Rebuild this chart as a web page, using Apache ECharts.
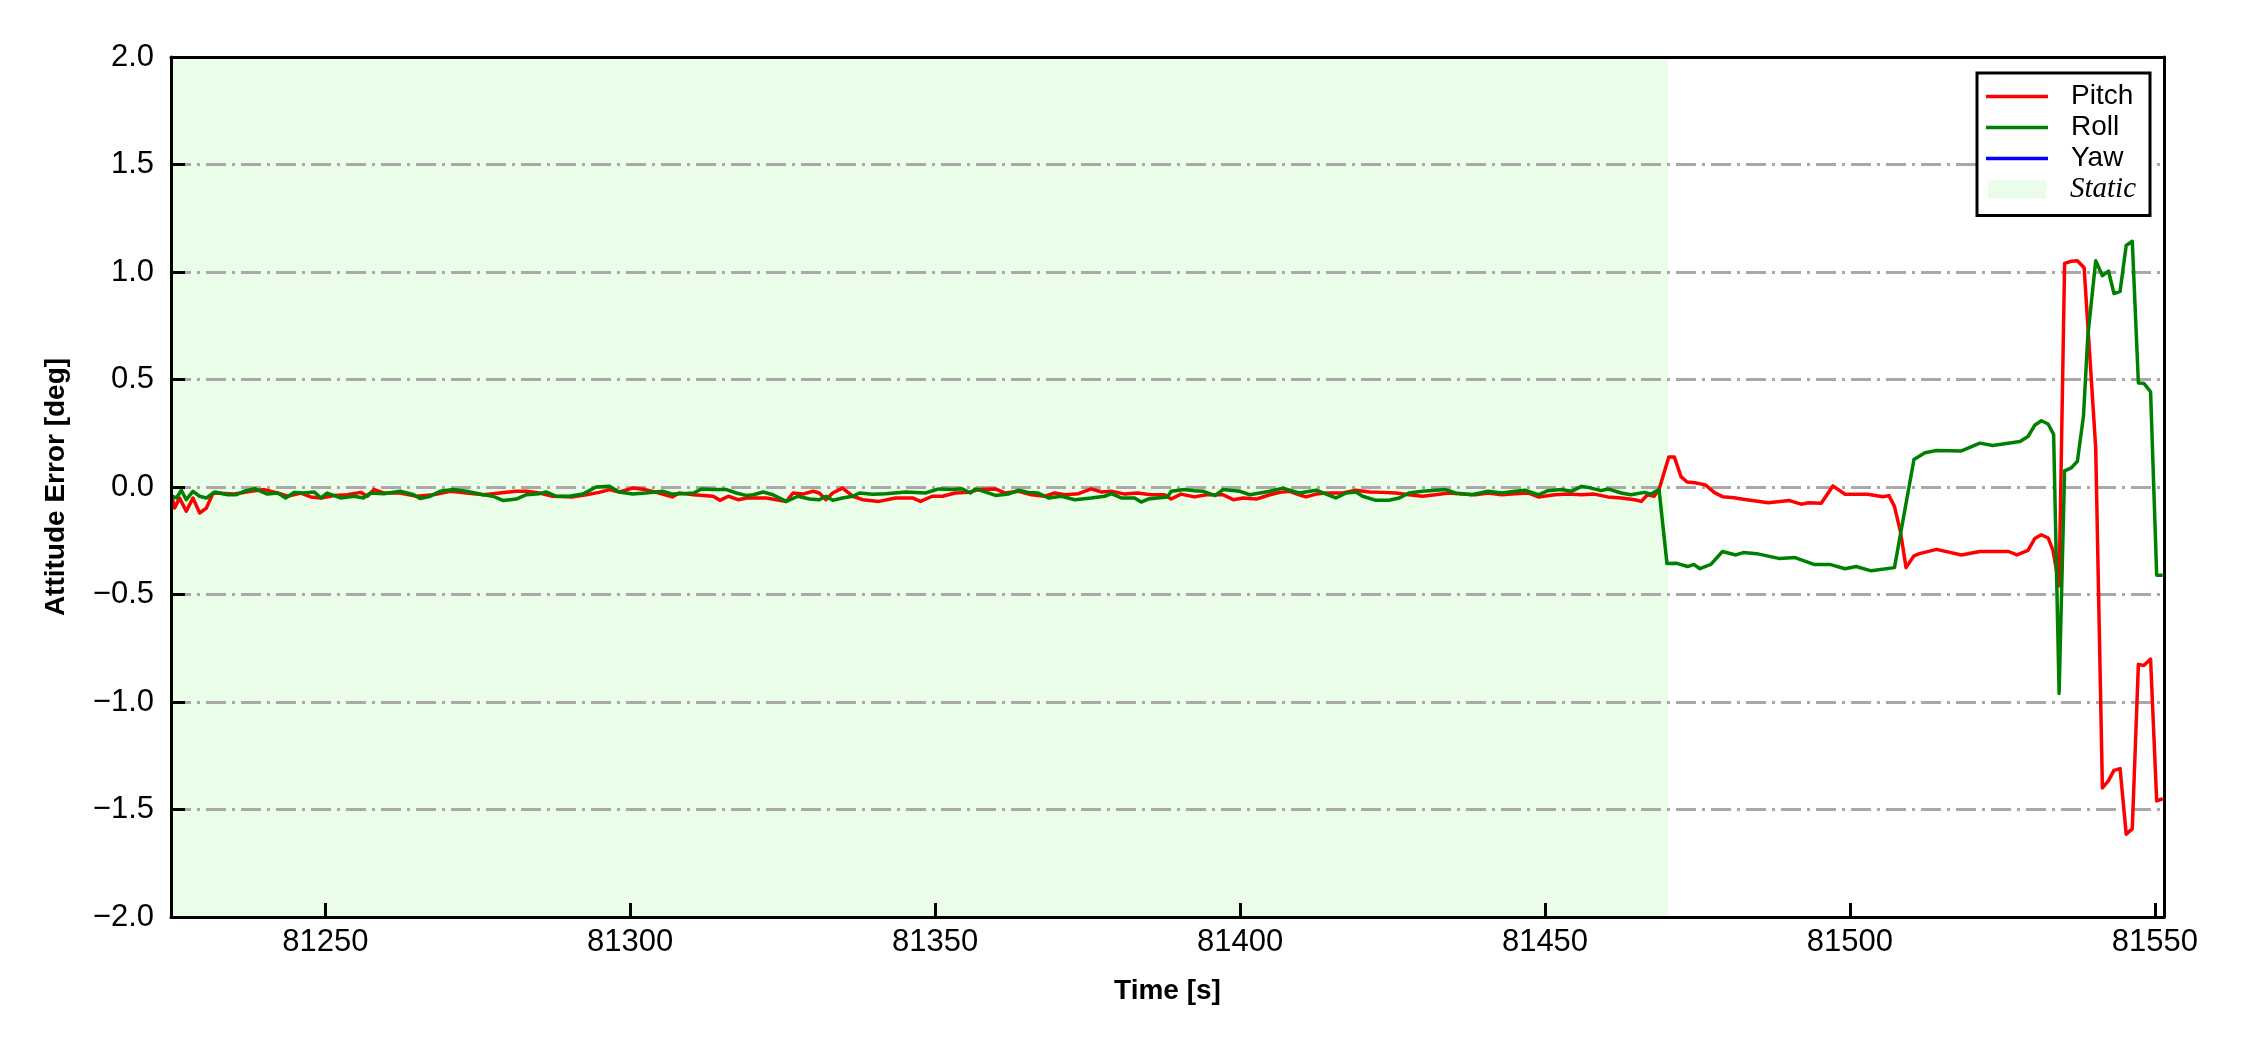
<!DOCTYPE html>
<html><head><meta charset="utf-8">
<script src="https://cdn.jsdelivr.net/npm/echarts@6/dist/echarts.min.js"></script>
<style>html,body{margin:0;padding:0;background:#fff}#c{width:2250px;height:1050px}</style>
</head><body><div id="c"></div>
<script>
const xRange = [81224.7, 81551.5];
const yRange = [-2.0, 2.0];
const xTicks = [81250, 81300, 81350, 81400, 81450, 81500, 81550];
const xTickLabels = ['81250', '81300', '81350', '81400', '81450', '81500', '81550'];
const yTicks = [-2.0, -1.5, -1.0, -0.5, 0.0, 0.5, 1.0, 1.5, 2.0];
const yTickLabels = ['\u22122.0', '\u22121.5', '\u22121.0', '\u22120.5', '0.0', '0.5', '1.0', '1.5', '2.0'];
const staticRange = [81224.7, 81470.2];
const seriesNames = ['Pitch', 'Roll', 'Yaw', 'Static'];
const seriesColors = ['#ff0000', '#008000', '#0000ff', '#e9fde9'];

const pitchTime = [81224.9,81225.3,81226.1,81227.2,81228.3,81229.4,81230.5,81231.6,81235.1,81237.8,81240.0,81242.2,81243.8,81246.0,81247.6,81249.3,81251.4,81253.6,81255.8,81256.9,81258.0,81259.6,81262.3,81265.0,81267.7,81270.5,81273.2,81275.9,81278.6,81281.3,81283.0,81285.1,81287.3,81290.6,81292.8,81294.9,81296.6,81298.2,81300.4,81302.5,81304.7,81306.9,81308.0,81310.4,81313.6,81314.7,81316.1,81317.7,81319.1,81322.3,81325.6,81326.7,81328.3,81330.0,81331.0,81332.1,81333.2,81334.8,81336.5,81338.1,81340.8,81343.5,81346.3,81347.6,81349.5,81351.2,81353.3,81355.5,81357.1,81359.9,81361.5,81363.7,81365.8,81368.0,81369.6,81371.3,81373.5,81375.6,81377.3,81378.9,81381.1,81383.2,81385.4,81387.6,81388.7,81390.3,81392.5,81394.5,81397.2,81398.9,81400.5,81402.7,81404.9,81406.5,81408.1,81409.7,81410.8,81412.5,81414.1,81416.8,81419.0,81421.2,81423.3,81425.5,81427.7,81429.9,81432.0,81434.2,81436.4,81438.6,81440.7,81442.9,81445.1,81447.3,81448.9,81451.6,81453.8,81456.0,81458.1,81460.3,81462.5,81464.7,81465.8,81466.8,81467.9,81468.7,81470.3,81471.2,81472.3,81473.3,81474.6,81476.3,81477.8,81479.1,81481.0,81482.5,81486.6,81490.1,81492.0,81493.2,81495.3,81497.2,81499.2,81502.9,81505.4,81506.4,81507.3,81508.3,81509.2,81510.5,81511.4,81514.2,81518.3,81521.3,81526.0,81527.4,81529.2,81530.3,81531.4,81532.5,81533.3,81534.3,81535.2,81536.3,81537.3,81538.4,81540.3,81541.4,81542.4,81543.3,81544.3,81545.3,81546.3,81547.3,81548.2,81549.3,81550.3,81551.3];
const pitchValue = [-0.051,-0.098,-0.051,-0.113,-0.051,-0.121,-0.098,-0.028,-0.033,-0.020,-0.012,-0.028,-0.043,-0.028,-0.046,-0.051,-0.040,-0.036,-0.025,-0.043,-0.012,-0.028,-0.028,-0.043,-0.036,-0.020,-0.028,-0.036,-0.028,-0.020,-0.020,-0.028,-0.043,-0.046,-0.036,-0.025,-0.012,-0.023,-0.005,-0.012,-0.028,-0.046,-0.028,-0.036,-0.043,-0.062,-0.043,-0.059,-0.051,-0.051,-0.067,-0.028,-0.033,-0.020,-0.028,-0.059,-0.028,-0.005,-0.043,-0.059,-0.067,-0.051,-0.051,-0.067,-0.043,-0.043,-0.028,-0.025,-0.012,-0.009,-0.028,-0.020,-0.036,-0.043,-0.028,-0.036,-0.031,-0.009,-0.023,-0.020,-0.033,-0.028,-0.036,-0.036,-0.056,-0.033,-0.046,-0.036,-0.036,-0.059,-0.051,-0.056,-0.036,-0.025,-0.020,-0.036,-0.046,-0.033,-0.028,-0.028,-0.015,-0.023,-0.025,-0.028,-0.036,-0.043,-0.036,-0.028,-0.033,-0.036,-0.028,-0.036,-0.031,-0.028,-0.046,-0.036,-0.033,-0.036,-0.033,-0.046,-0.051,-0.059,-0.067,-0.036,-0.043,-0.012,0.140,0.140,0.048,0.023,0.020,0.010,-0.026,-0.045,-0.050,-0.057,-0.073,-0.063,-0.080,-0.073,-0.076,0.005,-0.034,-0.034,-0.045,-0.040,-0.090,-0.210,-0.375,-0.320,-0.310,-0.290,-0.316,-0.300,-0.300,-0.316,-0.295,-0.240,-0.222,-0.237,-0.295,-0.460,1.040,1.050,1.052,1.020,0.183,-1.400,-1.366,-1.318,-1.310,-1.615,-1.590,-0.825,-0.830,-0.800,-1.460,-1.450];

const rollTime = [81224.9,81225.6,81226.4,81227.2,81228.3,81229.4,81230.5,81231.9,81234.0,81235.4,81236.7,81238.4,81240.5,81242.2,81243.5,81244.9,81246.5,81248.2,81249.3,81250.3,81252.5,81254.7,81256.3,81257.4,81259.6,81262.3,81264.5,81265.6,81267.2,81268.8,81271.0,81273.2,81275.9,81277.5,81279.2,81281.3,81283.0,81285.1,81286.2,81287.9,81290.0,81292.2,81294.4,81296.6,81298.2,81300.4,81302.5,81305.3,81306.9,81308.5,81310.4,81311.7,81313.6,81315.8,81317.4,81319.1,81320.2,81321.8,81323.4,81325.6,81327.5,81329.4,81331.0,81332.1,81333.2,81334.8,81336.5,81337.6,81339.7,81341.9,81345.2,81348.4,81350.6,81352.8,81354.4,81355.8,81356.6,81358.2,81359.9,81362.0,81363.7,81365.3,81366.9,81368.6,81370.7,81372.9,81375.6,81377.8,81378.9,81380.5,81382.7,81383.8,81384.9,81386.5,81388.1,81388.7,81390.9,81392.5,81394.0,81395.9,81397.2,81400.0,81401.6,81404.9,81407.0,81409.7,81412.5,81414.1,81415.7,81417.4,81419.0,81420.1,81422.3,81424.4,81426.1,81427.7,81429.9,81433.7,81435.3,81438.0,81440.7,81442.9,81445.1,81446.7,81448.9,81450.5,81452.7,81454.3,81456.0,81457.6,81459.2,81460.3,81462.5,81464.1,81466.3,81467.4,81468.7,81470.0,81471.6,81473.4,81474.4,81475.4,81477.2,81479.1,81481.3,81482.5,81484.7,81488.5,81491.0,81494.1,81496.7,81499.2,81501.0,81503.5,81507.3,81510.5,81512.3,81514.2,81518.3,81521.3,81523.4,81527.9,81529.2,81530.3,81531.4,81532.5,81533.4,81534.3,81535.2,81536.3,81537.3,81538.3,81539.0,81540.3,81541.4,81542.4,81543.3,81544.3,81545.3,81546.3,81547.3,81548.2,81549.3,81550.3,81551.3];
const rollValue = [-0.043,-0.051,-0.015,-0.059,-0.020,-0.043,-0.051,-0.023,-0.036,-0.036,-0.020,-0.008,-0.033,-0.028,-0.051,-0.025,-0.028,-0.023,-0.051,-0.028,-0.051,-0.043,-0.051,-0.028,-0.031,-0.020,-0.036,-0.054,-0.043,-0.020,-0.012,-0.020,-0.036,-0.043,-0.063,-0.056,-0.036,-0.031,-0.023,-0.043,-0.043,-0.033,0.000,0.003,-0.023,-0.033,-0.028,-0.020,-0.033,-0.031,-0.028,-0.009,-0.012,-0.012,-0.028,-0.040,-0.036,-0.023,-0.036,-0.067,-0.043,-0.056,-0.059,-0.043,-0.062,-0.051,-0.043,-0.028,-0.034,-0.031,-0.023,-0.028,-0.009,-0.012,-0.008,-0.028,-0.009,-0.023,-0.039,-0.033,-0.015,-0.025,-0.028,-0.051,-0.043,-0.059,-0.051,-0.043,-0.031,-0.051,-0.051,-0.070,-0.056,-0.051,-0.046,-0.020,-0.012,-0.017,-0.020,-0.040,-0.012,-0.020,-0.036,-0.020,-0.005,-0.028,-0.015,-0.033,-0.051,-0.028,-0.023,-0.043,-0.062,-0.062,-0.051,-0.028,-0.020,-0.012,-0.028,-0.036,-0.020,-0.028,-0.020,-0.015,-0.036,-0.017,-0.012,-0.020,0.003,-0.005,-0.017,-0.009,-0.028,-0.036,-0.025,-0.033,-0.012,-0.356,-0.355,-0.370,-0.360,-0.380,-0.360,-0.300,-0.316,-0.305,-0.310,-0.333,-0.328,-0.360,-0.360,-0.380,-0.370,-0.390,-0.375,0.128,0.159,0.170,0.168,0.204,0.193,0.212,0.235,0.287,0.308,0.293,0.245,-0.960,0.075,0.089,0.120,0.330,0.700,1.052,0.983,1.004,0.900,0.910,1.123,1.143,0.484,0.482,0.443,-0.410,-0.410];

const yawTime = [];
const yawValue = [];

function pairs(t, v) { return t.map((x, i) => [x, v[i]]); }

const FONT = '"Liberation Sans", Arial, sans-serif';
const chart = echarts.init(document.getElementById('c'), null, {renderer: 'canvas'});

const lineSeries = (name, t, v, color) => ({
  name: name, type: 'line', data: pairs(t, v), xAxisIndex: 0, yAxisIndex: 0,
  symbol: 'none', showSymbol: false, smooth: false, z: 3, clip: true,
  itemStyle: {color: color},
  lineStyle: {color: color, width: 3.5, join: 'round'},
  emphasis: {disabled: true}
});

const option = {
  animation: false,
  backgroundColor: '#ffffff',
  grid: {left: 171, right: 86, top: 57, bottom: 133, containLabel: false},
  xAxis: [
    {type: 'value', position: 'bottom', min: xRange[0], max: xRange[1], z: 10,
     name: 'Time [s]', nameLocation: 'middle', nameGap: 60,
     nameTextStyle: {fontFamily: FONT, fontSize: 28, fontWeight: 'bold', color: '#000'},
     axisLine: {show: true, onZero: false, lineStyle: {color: '#000', width: 3}},
     axisTick: {show: true, inside: true, length: 14, customValues: xTicks, lineStyle: {color: '#000', width: 3}},
     axisLabel: {show: true, margin: 10, customValues: xTicks, fontFamily: FONT, fontSize: 31, color: '#000',
       formatter: v => { const i = xTicks.findIndex(t => Math.abs(t - v) < 1e-6); return i >= 0 ? xTickLabels[i] : ''; }},
     splitLine: {show: false}},
    {type: 'value', position: 'top', min: xRange[0], max: xRange[1], z: 10,
     axisLine: {show: true, onZero: false, lineStyle: {color: '#000', width: 3}},
     axisTick: {show: false}, axisLabel: {show: false}, splitLine: {show: false}}
  ],
  yAxis: [
    {type: 'value', position: 'left', min: yRange[0], max: yRange[1], interval: 0.5, z: 10,
     name: 'Attitude Error [deg]', nameLocation: 'middle', nameGap: 101,
     nameTextStyle: {fontFamily: FONT, fontSize: 28, fontWeight: 'bold', color: '#000'},
     axisLine: {show: true, onZero: false, lineStyle: {color: '#000', width: 3}},
     axisTick: {show: true, inside: true, length: 14, lineStyle: {color: '#000', width: 3}},
     axisLabel: {show: true, margin: 17, fontFamily: FONT, fontSize: 31, color: '#000',
       formatter: v => { const i = yTicks.findIndex(t => Math.abs(t - v) < 1e-6); return i >= 0 ? yTickLabels[i] : ''; }},
     splitLine: {show: false}},
    {type: 'value', position: 'right', min: yRange[0], max: yRange[1], interval: 0.5, z: 10,
     axisLine: {show: true, onZero: false, lineStyle: {color: '#000', width: 3}},
     axisTick: {show: false}, axisLabel: {show: false}, splitLine: {show: false}},
    {type: 'value', position: 'left', min: yRange[0], max: yRange[1], interval: 0.5, z: 1,
     axisLine: {show: false, onZero: false}, axisTick: {show: false}, axisLabel: {show: false},
     splitLine: {show: true, lineStyle: {color: '#a9a9a9', width: 3, type: [20, 6, 3, 6], cap: 'butt'}}}
  ],
  legend: [
    {data: seriesNames.slice(0, 3).map((n, i) => ({name: n, icon: 'rect', itemStyle: {color: seriesColors[i], borderWidth: 0}})),
     orient: 'vertical', left: 1986, top: 81, padding: 0,
     itemWidth: 62, itemHeight: 3.5, itemGap: 0, selectedMode: false, z: 6,
     textStyle: {fontFamily: FONT, fontSize: 28, color: '#000', lineHeight: 31, padding: [0, 0, 0, 18]}},
    {data: [{name: seriesNames[3], icon: 'rect', itemStyle: {color: seriesColors[3], borderWidth: 0}}],
     orient: 'vertical', left: 1988, top: 174, padding: 0,
     itemWidth: 58, itemHeight: 18, itemGap: 0, selectedMode: false, z: 6,
     textStyle: {fontFamily: '"Liberation Serif", "Times New Roman", serif', fontStyle: 'italic', fontSize: 29, color: '#000', lineHeight: 31, padding: [0, 0, 0, 19]}}
  ],
  graphic: [
    {type: 'rect', z: 5, shape: {x: 1977, y: 73, width: 173, height: 142.5},
     style: {fill: '#ffffff', stroke: '#000000', lineWidth: 3}, silent: true}
  ],
  series: [
    lineSeries(seriesNames[0], pitchTime, pitchValue, seriesColors[0]),
    lineSeries(seriesNames[1], rollTime, rollValue, seriesColors[1]),
    lineSeries(seriesNames[2], yawTime, yawValue, seriesColors[2]),
    {name: seriesNames[3], type: 'line', data: [], xAxisIndex: 0, yAxisIndex: 0, symbol: 'none', z: 0,
     itemStyle: {color: seriesColors[3], borderWidth: 0}, lineStyle: {color: seriesColors[3], width: 0},
     markArea: {silent: true, z: 0, itemStyle: {color: seriesColors[3], borderWidth: 0},
       data: [[{xAxis: staticRange[0]}, {xAxis: staticRange[1]}]]}}
  ]
};
chart.setOption(option);
</script>
</body></html>
